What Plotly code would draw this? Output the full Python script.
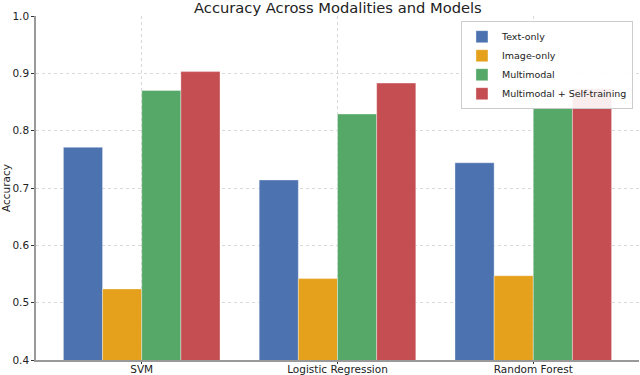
import plotly.graph_objects as go

# Data
models = ['SVM', 'Logistic Regression', 'Random Forest']
text_only = [0.771, 0.714, 0.744]
image_only = [0.524, 0.542, 0.547]
multimodal = [0.870, 0.829, 0.839]
multimodal_self = [0.903, 0.883, 0.873]

series = [
    ('Text-only', text_only, '#4C72B0'),
    ('Image-only', image_only, '#E5A11C'),
    ('Multimodal', multimodal, '#55A868'),
    ('Multimodal + Self-training', multimodal_self, '#C44E52'),
]

fig = go.Figure()
for name, vals, color in series:
    fig.add_trace(go.Bar(
        x=models,
        y=vals,
        name=name,
        marker=dict(color=color, line=dict(color='rgba(255,255,255,0.6)', width=0.6)),
    ))

font = 'DejaVu Sans, Verdana, sans-serif'

fig.update_layout(
    width=640, height=375,
    margin=dict(l=36, r=1, t=16, b=15),
    paper_bgcolor='white',
    plot_bgcolor='white',
    barmode='group',
    bargap=0.2,
    bargroupgap=0,
    font=dict(family=font, color='#222222', size=11),
    title=dict(text='Accuracy Across Modalities and Models', x=0.528, xanchor='center',
               y=1 - 8 / 375, yanchor='middle', yref='container', automargin=False,
               font=dict(size=14.7, family=font, color='#222222')),
    legend=dict(x=0.99, y=0.985, xanchor='right', yanchor='top',
                bgcolor='rgba(255,255,255,0.9)', bordercolor='#cccccc', borderwidth=1,
                font=dict(size=9.5, family=font), tracegroupgap=0, itemwidth=30),
    xaxis=dict(
        range=[-0.54, 2.54], automargin=False,
        showgrid=True, gridcolor='#d9d9d9', griddash='dot', gridwidth=1,
        showline=True, linecolor='#999999', linewidth=1.5,
        ticks='outside', ticklen=2, tickcolor='#333333',
        ticklabelstandoff=-3,
        tickfont=dict(size=10.5),
    ),
    yaxis=dict(
        range=[0.4, 1.0], automargin=False,
        dtick=0.1, tickformat='.1f',
        showgrid=True, gridcolor='#d9d9d9', griddash='dot', gridwidth=1,
        showline=True, linecolor='#999999', linewidth=1.5,
        ticks='outside', ticklen=3, tickcolor='#333333',
        tickfont=dict(size=10.5),
        title=dict(text='Accuracy', font=dict(size=10.5), standoff=4),
        zeroline=False,
    ),
)

# page body has a default margin; drop it so the figure sits at the corner
fig.write_html('out.html', config={'displayModeBar': False},
               post_script="document.body.style.margin='0';")
